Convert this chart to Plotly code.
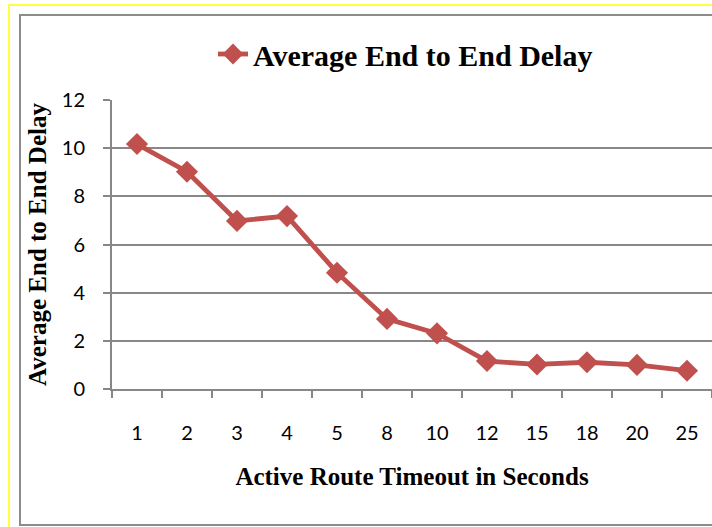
import plotly.graph_objects as go

categories = ["1", "2", "3", "4", "5", "8", "10", "12", "15", "18", "20", "25"]
delay = [10.17, 9.02, 6.98, 7.18, 4.83, 2.91, 2.31, 1.16, 1.02, 1.11, 1.0, 0.76]
y_ticks = [0, 2, 4, 6, 8, 10, 12]
series_name = "Average End to End Delay"
x_title = "Active Route Timeout in Seconds"
y_title = "Average End to End Delay"

W, H = 712, 527
L, R, T, B = 112, 0, 100, 138
PW, PH = W - L - R, H - T - B

def px(x):
    return (x - L) / PW

def py(y):
    return (H - B - y) / PH

RED = "#C0504D"
GRID = "#878787"
serif = "Liberation Serif, Times New Roman, serif"
sans = "Lato, Calibri, sans-serif"

fig = go.Figure()
fig.add_trace(go.Scatter(
    x=categories, y=delay, name=series_name, mode="lines+markers",
    line=dict(color=RED, width=4.8),
    marker=dict(symbol="diamond", size=17, color=RED),
))

fig.update_layout(
    width=W, height=H,
    margin=dict(l=L, r=R, t=T, b=B, pad=0),
    paper_bgcolor="white", plot_bgcolor="white",
    showlegend=True,
    legend=dict(orientation="h", x=px(213), y=py(54), xanchor="left", yanchor="middle",
                font=dict(family=serif, size=30, color="black", weight="bold"),
                bgcolor="rgba(0,0,0,0)", itemwidth=30),
    xaxis=dict(type="category", categoryorder="array", categoryarray=categories,
               range=[-0.5, len(categories) - 0.5],
               tickson="boundaries", ticks="outside", ticklen=7, tickwidth=1.5,
               tickcolor=GRID, showline=True, linecolor=GRID, linewidth=2,
               showgrid=False, ticklabelstandoff=25,
               tickfont=dict(family=sans, size=20, color="black"),
               title=dict(text="<b>" + x_title + "</b>", standoff=24,
                          font=dict(family=serif, size=25, color="black"))),
    yaxis=dict(range=[0, 12], tickvals=y_ticks, ticks="outside", ticklen=7, tickwidth=1.5,
               tickcolor=GRID, showline=True, linecolor=GRID, linewidth=2,
               showgrid=True, gridcolor=GRID, gridwidth=1.5, zeroline=False,
               ticklabelstandoff=14,
               tickfont=dict(family=sans, size=20, color="black"),
               title=dict(text="<b>" + y_title + "</b>", standoff=8,
                          font=dict(family=serif, size=25, color="black"))),
    shapes=[
        dict(type="rect", xref="paper", yref="paper", x0=px(9), x1=px(730), y0=py(5), y1=py(545),
             line=dict(color="#FFFF00", width=1.5), layer="below"),
        dict(type="rect", xref="paper", yref="paper", x0=px(20), x1=px(730), y0=py(15), y1=py(525),
             line=dict(color="#8C8C8C", width=2), layer="below"),
    ],
)

fig.write_html("out.html", config={"displayModeBar": False},
               post_script="document.body.style.margin='0';")
